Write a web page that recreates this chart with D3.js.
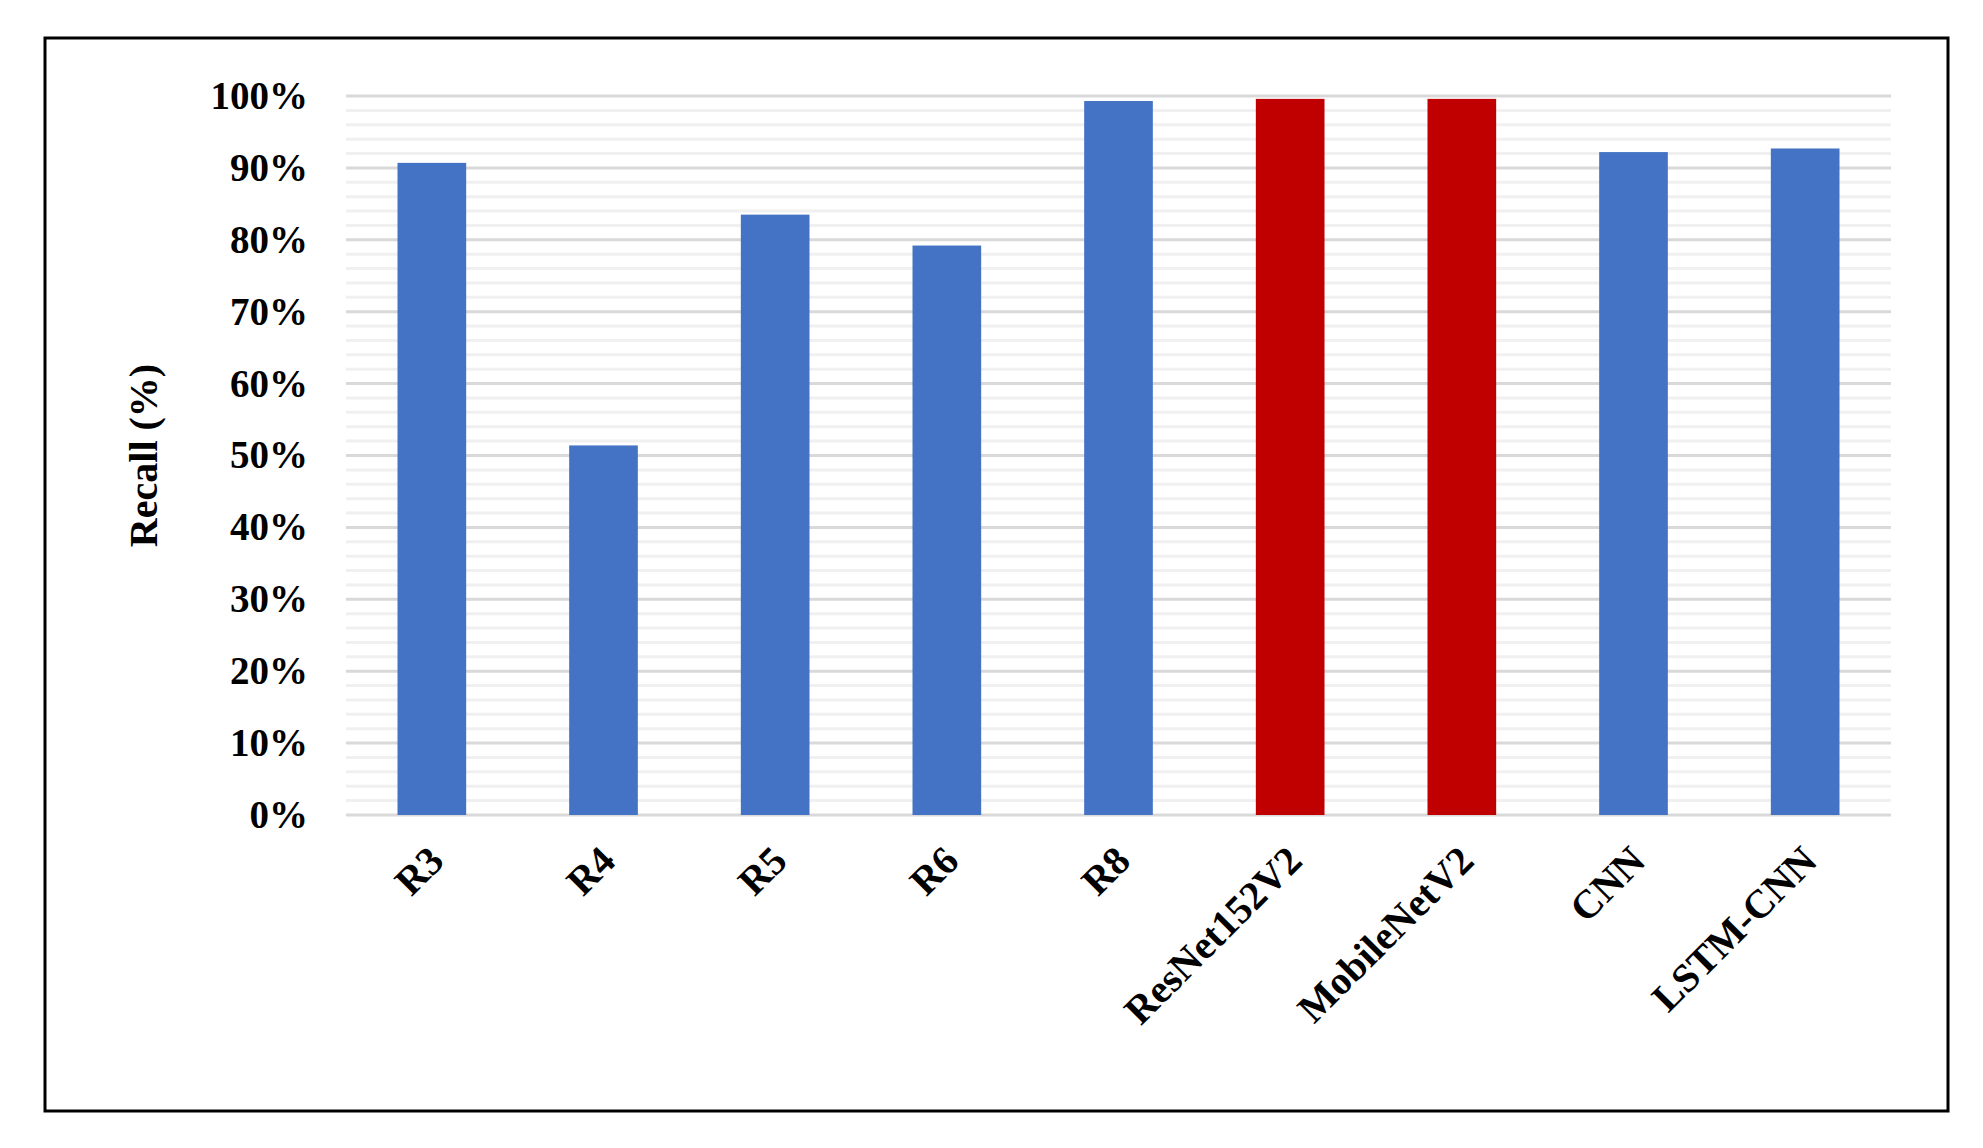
<!DOCTYPE html>
<html>
<head>
<meta charset="utf-8">
<script src="https://cdn.jsdelivr.net/npm/d3@7"></script>
<style>
  body { margin: 0; background: #fff; }
  text { font-family: "Liberation Serif", "Times New Roman", serif; font-weight: bold; }
</style>
</head>
<body>
<div id="chart"></div>
<script>
const categories = ["R3", "R4", "R5", "R6", "R8", "ResNet152V2", "MobileNetV2", "CNN", "LSTM-CNN"];
const recall = [0.907, 0.514, 0.835, 0.792, 0.993, 0.996, 0.996, 0.922, 0.927];
const highlight = ["ResNet152V2", "MobileNetV2"];
const yTicks = [0, 0.1, 0.2, 0.3, 0.4, 0.5, 0.6, 0.7, 0.8, 0.9, 1.0];

const width = 1983, height = 1148;
const plotLeft = 346, plotRight = 1891, plotTop = 96, plotBottom = 815;

let svg = d3.select("#chart").append("svg")
    .attr("width", width)
    .attr("height", height);

// frame
svg.append("rect")
    .attr("x", 45).attr("y", 38)
    .attr("width", 1903).attr("height", 1073)
    .attr("fill", "none").attr("stroke", "black").attr("stroke-width", 3);

let xScale = d3.scaleBand()
    .domain(categories)
    .range([plotLeft, plotRight])
    .paddingInner(0.6)
    .paddingOuter(0.3);

let yScale = d3.scaleLinear()
    .domain([0, 1])
    .range([plotBottom, plotTop]);

// minor gridlines every 2%
svg.append("g").selectAll("line")
    .data(d3.range(0, 51).map(i => i * 0.02).filter((v, i) => i % 5 !== 0))
    .join("line")
    .attr("x1", plotLeft).attr("x2", plotRight)
    .attr("y1", d => yScale(d)).attr("y2", d => yScale(d))
    .attr("stroke", "#f0f0f0").attr("stroke-width", 3);

// major gridlines
svg.append("g").selectAll("line")
    .data(yTicks)
    .join("line")
    .attr("x1", plotLeft).attr("x2", plotRight)
    .attr("y1", d => yScale(d)).attr("y2", d => yScale(d))
    .attr("stroke", "#d9d9d9").attr("stroke-width", 3);

let yAxis = svg.append("g")
    .attr("transform", `translate(${plotLeft},0)`)
    .call(d3.axisLeft(yScale).tickValues(yTicks).tickFormat(d3.format(".0%")).tickSize(0).tickPadding(38));
yAxis.select(".domain").remove();
yAxis.selectAll("text").style("font-size", "39px").attr("fill", "black");

svg.selectAll(".bar")
    .data(categories)
    .join("rect")
    .attr("class", "bar")
    .attr("x", d => xScale(d))
    .attr("width", xScale.bandwidth())
    .attr("y", (d, i) => yScale(recall[i]))
    .attr("height", (d, i) => plotBottom - yScale(recall[i]))
    .attr("fill", d => highlight.includes(d) ? "#c00000" : "#4472c4");

// x labels rotated
svg.append("g").selectAll("text")
    .data(categories)
    .join("text")
    .attr("text-anchor", "end")
    .attr("transform", d => `translate(${xScale(d) + xScale.bandwidth() / 2 + 14},${plotBottom + 48}) rotate(-45)`)
    .style("font-size", "40px")
    .text(d => d);

svg.append("text")
    .attr("text-anchor", "middle")
    .attr("transform", `translate(157,${(plotTop + plotBottom) / 2}) rotate(-90)`)
    .style("font-size", "40px")
    .text("Recall (%)");
</script>
</body>
</html>
